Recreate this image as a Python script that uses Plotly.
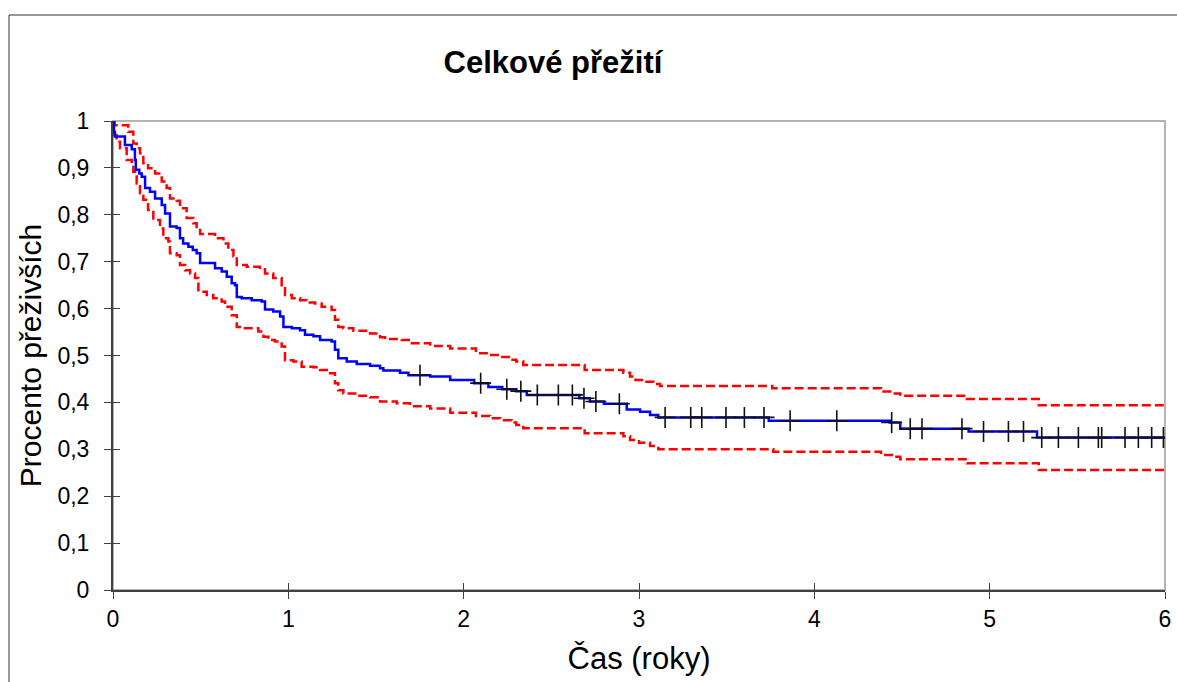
import numpy as np
import plotly.graph_objects as go

# ---------------- data ----------------
km_time = [0, 0.005, 0.011, 0.068, 0.107, 0.125, 0.13, 0.15, 0.164, 0.183, 0.211, 0.24,
           0.278, 0.297, 0.325, 0.363, 0.382, 0.4, 0.43, 0.455, 0.477, 0.497, 0.582,
           0.62, 0.649, 0.677, 0.696, 0.706, 0.734, 0.791, 0.848, 0.867, 0.914, 0.953,
           0.972, 1.02, 1.067, 1.095, 1.143, 1.181, 1.247, 1.266, 1.285, 1.333, 1.39,
           1.466, 1.523, 1.542, 1.637, 1.685, 1.809, 1.923, 2.06, 2.141, 2.22, 2.30,
           2.36, 2.66, 2.72, 2.80, 2.93, 3.006, 3.063, 3.11, 3.74, 4.43, 4.49, 4.88,
           5.27, 6.0]
km_surv = [1.0, 0.977, 0.967, 0.949, 0.94, 0.917, 0.896, 0.888, 0.881, 0.857, 0.849, 0.835,
           0.821, 0.803, 0.775, 0.772, 0.75, 0.739, 0.732, 0.725, 0.718, 0.697, 0.686,
           0.679, 0.668, 0.654, 0.65, 0.625, 0.622, 0.618, 0.615, 0.598, 0.594, 0.583,
           0.561, 0.558, 0.554, 0.544, 0.541, 0.533, 0.53, 0.512, 0.494, 0.487, 0.482,
           0.478, 0.473, 0.468, 0.463, 0.458, 0.455, 0.448, 0.441, 0.433, 0.428, 0.424,
           0.416, 0.409, 0.402, 0.397, 0.385, 0.38, 0.373, 0.368, 0.361, 0.357, 0.344,
           0.338, 0.325, 0.325]

censor_time = [1.751, 2.097, 2.246, 2.326, 2.42, 2.54, 2.62, 2.686, 2.754, 2.888, 3.149,
               3.295, 3.358, 3.496, 3.601, 3.713, 3.862, 4.128, 4.441, 4.547, 4.614,
               4.842, 4.965, 5.107, 5.193, 5.297, 5.392, 5.506, 5.62, 5.639, 5.772,
               5.848, 5.924, 5.991]

upper_time = [0, 0.01, 0.087, 0.116, 0.135, 0.154, 0.173, 0.2, 0.24, 0.278, 0.306, 0.325,
              0.363, 0.382, 0.42, 0.458, 0.477, 0.497, 0.582, 0.63, 0.658, 0.687, 0.706,
              0.763, 0.838, 0.867, 0.914, 0.962, 0.981, 1.02, 1.067, 1.105, 1.152, 1.19,
              1.247, 1.266, 1.285, 1.314, 1.371, 1.466, 1.523, 1.552, 1.647, 1.694, 1.809,
              1.923, 2.07, 2.15, 2.208, 2.265, 2.30, 2.34, 2.69, 2.911, 2.949, 2.98, 3.03,
              3.082, 3.12, 3.76, 4.38, 4.45, 4.49, 4.87, 5.28, 6.0]
upper_surv = [1.0, 0.991, 0.977, 0.952, 0.942, 0.931, 0.91, 0.899, 0.888, 0.871, 0.857, 0.835,
              0.83, 0.814, 0.793, 0.782, 0.771, 0.759, 0.75, 0.739, 0.725, 0.711, 0.693,
              0.689, 0.684, 0.675, 0.665, 0.65, 0.629, 0.622, 0.618, 0.613, 0.611, 0.604,
              0.597, 0.576, 0.561, 0.558, 0.553, 0.547, 0.539, 0.535, 0.533, 0.526, 0.52,
              0.515, 0.505, 0.501, 0.497, 0.491, 0.487, 0.48, 0.469, 0.463, 0.455, 0.448, 0.444,
              0.439, 0.435, 0.43, 0.423, 0.419, 0.414, 0.407, 0.394, 0.394]

lower_time = [0, 0.002, 0.005, 0.02, 0.04, 0.078, 0.107, 0.116, 0.135, 0.154, 0.173, 0.2,
              0.23, 0.268, 0.287, 0.316, 0.325, 0.363, 0.382, 0.411, 0.44, 0.468, 0.487,
              0.535, 0.572, 0.62, 0.639, 0.677, 0.706, 0.743, 0.829, 0.858, 0.886, 0.924,
              0.962, 0.981, 1.029, 1.076, 1.143, 1.181, 1.238, 1.266, 1.285, 1.314, 1.39,
              1.466, 1.523, 1.618, 1.694, 1.809, 1.923, 2.07, 2.15, 2.208, 2.274, 2.30,
              2.34, 2.69, 2.911, 2.949, 3.0, 3.063, 3.11, 3.766, 4.38, 4.45, 4.49, 4.87,
              5.28, 6.0]
lower_surv = [1.0, 0.991, 0.97, 0.956, 0.942, 0.917, 0.913, 0.892, 0.867, 0.846, 0.832, 0.81,
              0.789, 0.771, 0.75, 0.743, 0.718, 0.714, 0.693, 0.682, 0.675, 0.665, 0.636,
              0.629, 0.622, 0.615, 0.604, 0.586, 0.561, 0.558, 0.551, 0.54, 0.533, 0.53,
              0.519, 0.49, 0.487, 0.476, 0.475, 0.469, 0.462, 0.441, 0.426, 0.419, 0.414,
              0.411, 0.402, 0.398, 0.392, 0.387, 0.378, 0.371, 0.366, 0.362, 0.357, 0.352,
              0.345, 0.334, 0.328, 0.32, 0.314, 0.307, 0.30, 0.295, 0.288, 0.284, 0.279, 0.27,
              0.256, 0.256]

x_ticks = [0, 1, 2, 3, 4, 5, 6]
y_ticks = [0, 0.1, 0.2, 0.3, 0.4, 0.5, 0.6, 0.7, 0.8, 0.9, 1.0]
y_ticktext = ["0", "0,1", "0,2", "0,3", "0,4", "0,5", "0,6", "0,7", "0,8", "0,9", "1"]

title_text = "<b>Celkové přežití</b>"
x_title = "Čas (roky)"
y_title = "Procento přeživších"

# censor mark heights taken from the KM step function
idx = np.searchsorted(np.array(km_time), np.array(censor_time), side="right") - 1
censor_surv = [km_surv[i] for i in idx]

FONT = "Liberation Sans, Arial, sans-serif"
AX = "#404040"

fig = go.Figure()
fig.add_trace(go.Scatter(x=upper_time, y=upper_surv, mode="lines", line_shape="hv",
                         line=dict(color="#ff0000", width=2.5, dash="9px,4px"),
                         hoverinfo="skip", cliponaxis=False))
fig.add_trace(go.Scatter(x=lower_time, y=lower_surv, mode="lines", line_shape="hv",
                         line=dict(color="#ff0000", width=2.5, dash="9px,4px"),
                         hoverinfo="skip", cliponaxis=False))
fig.add_trace(go.Scatter(x=km_time, y=km_surv, mode="lines", line_shape="hv",
                         line=dict(color="#0000ff", width=2.5), cliponaxis=False))
fig.add_trace(go.Scatter(x=censor_time, y=censor_surv, mode="markers",
                         marker=dict(symbol="cross-thin", size=15,
                                     line=dict(color="#111111", width=1.6))))
# invisible trace for the overlay axes (inner half of the crossing ticks)
fig.add_trace(go.Scatter(x=[0], y=[0], xaxis="x2", yaxis="y2", mode="markers",
                         marker=dict(opacity=0), hoverinfo="skip"))

fig.update_layout(
    width=1177, height=682,
    margin=dict(l=113, r=12, t=121, b=92, autoexpand=False),
    paper_bgcolor="white", plot_bgcolor="white",
    showlegend=False,
    font=dict(family=FONT, color="black"),
    title=dict(text=title_text, x=553 / 1177, xanchor="center", y=1 - 62 / 682,
               yanchor="middle", font=dict(size=31, family=FONT, color="black")),
    xaxis=dict(range=[0, 6], tickvals=x_ticks, showgrid=False, zeroline=False,
               showline=True, linecolor=AX, linewidth=2, automargin=False,
               ticks="outside", ticklen=7, tickwidth=1.3, tickcolor=AX,
               tickfont=dict(size=23, family=FONT), ticklabelstandoff=0,
               title=dict(text=x_title, font=dict(size=31, family=FONT), standoff=17)),
    yaxis=dict(range=[0, 1], tickvals=y_ticks, ticktext=y_ticktext, showgrid=False,
               zeroline=False, showline=True, linecolor=AX, linewidth=2, automargin=False,
               ticks="outside", ticklen=7, tickwidth=1.3, tickcolor=AX,
               tickfont=dict(size=23, family=FONT), ticklabelstandoff=10,
               title=dict(text=y_title, font=dict(size=30, family=FONT), standoff=7)),
    xaxis2=dict(range=[0, 6], tickvals=x_ticks, overlaying="x", anchor="y",
                side="bottom", showgrid=False, zeroline=False, showline=False,
                ticks="inside", ticklen=7, tickwidth=1.3, tickcolor=AX,
                showticklabels=False, automargin=False),
    yaxis2=dict(range=[0, 1], tickvals=y_ticks, overlaying="y", anchor="x",
                side="left", showgrid=False, zeroline=False, showline=False,
                ticks="inside", ticklen=7, tickwidth=1.3, tickcolor=AX,
                showticklabels=False, automargin=False),
    shapes=[
        # plot-area frame (top / right in light grey)
        dict(type="rect", xref="paper", yref="paper", x0=0, x1=1, y0=0, y1=1,
             line=dict(color="#b4b4b4", width=2), layer="below"),
        # outer chart border
        dict(type="rect", xref="paper", yref="paper",
             x0=(9 - 113) / 1052, x1=(1190 - 113) / 1052,
             y0=(590 - 700) / 469, y1=(590 - 15) / 469,
             line=dict(color="#333333", width=1), layer="below"),
    ],
)

fig.write_html("out.html")
